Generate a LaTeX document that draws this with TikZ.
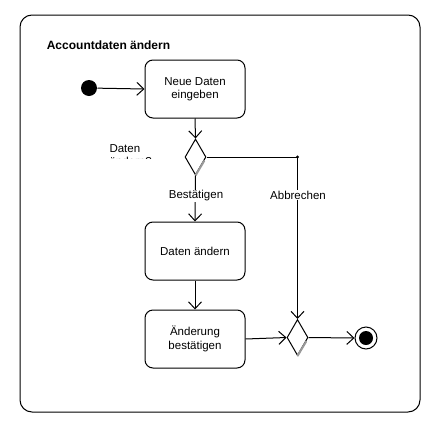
\documentclass[tikz,border=0pt]{standalone}
\usepackage{fontspec}
\setmainfont{Liberation Sans}
\usetikzlibrary{shapes.geometric,arrows.meta,calc}

\tikzset{
  action/.style={draw, rounded corners=8pt, minimum width=100pt, minimum height=58pt,
    align=center, font=\fontsize{11.5}{13.5}\selectfont},
  decision/.style={draw, diamond, inner sep=0pt, minimum width=21pt, minimum height=36pt, fill=white},
  flow/.style={-{Straight Barb[length=7pt,width=13pt]}},
  lbl/.style={font=\fontsize{11.5}{13.5}\selectfont, fill=white, inner sep=1pt}
}

\begin{document}
\begin{tikzpicture}[x=1pt,y=-1pt,line width=1pt]
        \useasboundingbox (0,0) rectangle (431,426);
        \draw [rounded corners=12pt] (20,15) rectangle (420,412);
        \node [anchor=west, font=\bfseries\fontsize{12}{14}\selectfont] (title) at (43,45) {Accountdaten ändern};

        \node [circle, fill, inner sep=0pt, minimum size=16pt] (start) at (89,88) {};
        \node [action] (enter) at (195,89) {Neue Daten\\eingeben};
        \node [decision] (d1) at (195.5,157) {};
        \node [action] (change) at (195,251) {Daten ändern};
        \node [action] (confirm) at (195,339) {Änderung\\bestätigen};
        \node [decision] (d2) at (297.5,337.5) {};
        \node [circle, draw, fill=white, inner sep=0pt, minimum size=22pt] (stop) at (366,338) {};
        \node [circle, fill, inner sep=0pt, minimum size=14pt] (stopdot) at (stop) {};
        \coordinate (turn) at (d2.north |- d1.east);

        % shadows of the diamonds
        \draw [gray!80, line width=2pt, xshift=1.2pt] ($(d1.east)!0.2!(d1.south)$) -- (d1.south);
        \draw [gray!80, line width=2pt, xshift=1.2pt] ($(d2.east)!0.2!(d2.south)$) -- (d2.south);

        \draw [flow] (start) -- (enter.west);
        \draw [flow] (enter.south) -- (d1.north);
        \draw [flow] (d1.south) -- (change.north);
        \draw [flow] (change.south) -- (confirm.north);
        \draw [flow] (confirm.east) -- (d2.west);
        \draw [flow] (d2.east) -- (stop.west);
        \draw [flow] (d1.east) -- (turn) -- (d2.north);
        \fill (turn) circle (1.6pt);

        \node [lbl] (ok) at (196,196) {Bestätigen};
        \node [lbl] (cancel) at (298,195) {Abbrechen};
        \begin{scope}
            \clip (100,140) rectangle (170,158.5);
            \node [lbl, fill=none, anchor=north west, align=left] (cond) at (108,143) {Daten\\ändern?};
        \end{scope}
\end{tikzpicture}
\end{document}
